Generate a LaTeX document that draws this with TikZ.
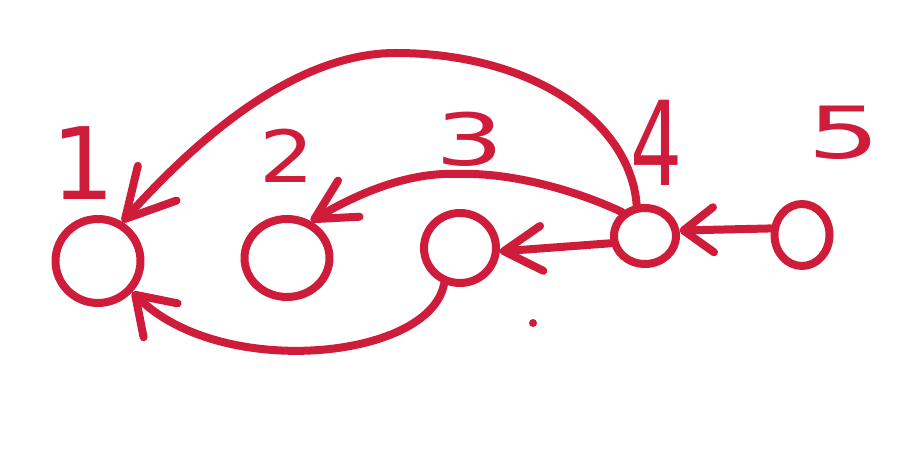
\documentclass[tikz,border=0pt]{standalone}
\usepackage{fontspec}
\setmainfont{DejaVu Sans}
\usetikzlibrary{arrows.meta,shapes.geometric}
\definecolor{inkred}{RGB}{206,28,58}
\begin{document}
\begin{tikzpicture}[x=1pt,y=-1pt,
  ink/.style={draw=inkred, line width=8pt, line cap=round, line join=round},
  vtx/.style={ink, ellipse, inner sep=0pt},
  lab/.style={text=inkred, inner sep=0pt},
  arrowed/.style 2 args={ink, -{Straight Barb[length=#1pt,width=#2pt,round]}}
]
\useasboundingbox[fill=white] (0,0) rectangle (908,449);
% vertices
\node[vtx, minimum width=85pt, minimum height=84pt] (n1) at (98,261) {};
\node[vtx, minimum width=85pt, minimum height=78pt] (n2) at (287,258) {};
\node[vtx, minimum width=72pt, minimum height=70pt] (n3) at (460,248) {};
\node[vtx, minimum width=62pt, minimum height=56pt] (n4) at (645,236) {};
\node[vtx, minimum width=55pt, minimum height=62pt] (n5) at (802,235) {};
% labels
\node[lab, font=\fontsize{100}{100}\selectfont] (l1) at (83,163) {1};
\node[lab, font=\fontsize{72}{72}\selectfont, xscale=1.2] (l2) at (287,156) {2};
\node[lab, font=\fontsize{72}{72}\selectfont, xscale=1.5] (l3) at (470,139) {3};
\node[lab, font=\fontsize{117}{117}\selectfont, xscale=0.7] (l4) at (657,143) {4};
\node[lab, font=\fontsize{72}{72}\selectfont, xscale=1.6] (l5) at (844,133) {5};
% edges
\coordinate (top) at (396,53);
\coordinate (mid) at (457,174);
\draw[arrowed={48}{52}] (n4.105) .. controls (630,120) and (530,53) .. (top)
      .. controls (300,53) and (205,130) .. (n1.58);
\draw[arrowed={40}{42}] (n4.134) .. controls (575,190) and (510,172) .. (mid)
      .. controls (410,172) and (360,192) .. (n2.57);
\draw[arrowed={30}{45}] (n5.168) -- (n4.9);
\draw[arrowed={38}{45}] (n4.192) -- (n3.-5);
\draw[arrowed={36}{48}] (n3.-114) .. controls (430,360) and (220,380) .. (n1.-42);
% stray dot
\fill[inkred] (533,323) circle (4pt);
\end{tikzpicture}
\end{document}
